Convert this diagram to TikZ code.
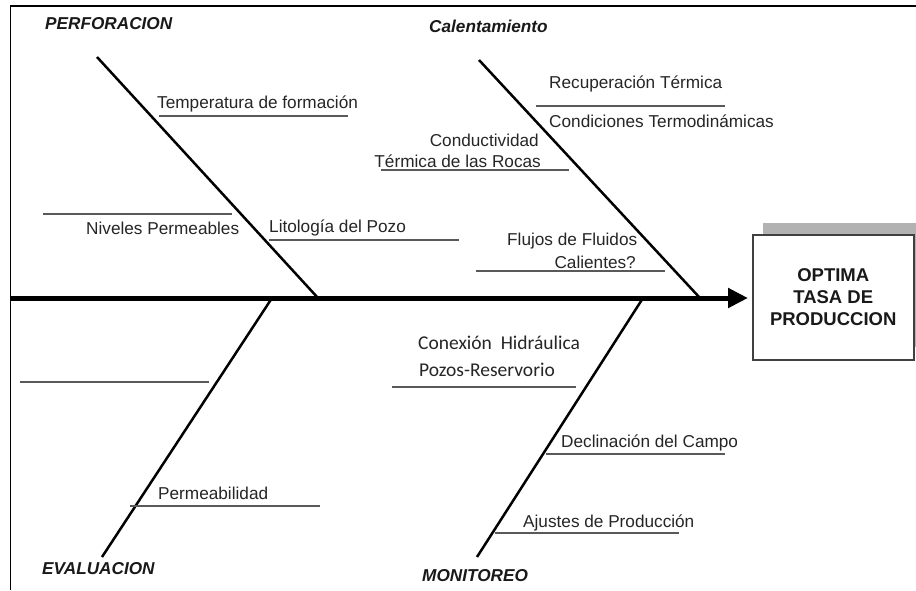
\documentclass[tikz,border=0pt]{standalone}
\usepackage{fontspec}
\setmainfont{Liberation Sans}
\newfontfamily\calib{Carlito}
\usetikzlibrary{arrows.meta}
\begin{document}
\begin{tikzpicture}[x=1pt,y=-1pt,
  lbl/.style={inner sep=0pt,font=\fontsize{17.2}{20}\selectfont,text=black!85},
  head/.style={inner sep=0pt,font=\fontsize{17.2}{20}\selectfont\bfseries\itshape,text=black!90},
  bone/.style={line width=2.5pt,black},
  sub/.style={line width=1.6pt,black!65},
  frame/.style={line width=1.6pt,black}]
\useasboundingbox (0,0) rectangle (916,590);
\fill[white] (0,0) rectangle (916,590);
% frame
\coordinate (fTL) at (10.5,6);
\coordinate (fTR) at (916,6);
\coordinate (fBL) at (10.5,590);
\draw[frame] (fTR) -- (fTL) -- (fBL);
% result box
\fill[black!30] (763,223) rectangle (916,347);
\node[draw=black!75,line width=1.5pt,fill=white,minimum width=161pt,minimum height=125pt,anchor=north west,inner sep=0pt,
  font=\fontsize{18.5}{22}\selectfont\bfseries,align=center,text=black!90] (res) at (752,234) {OPTIMA\\TASA DE\\PRODUCCION};
% spine
\coordinate (spL) at (10.5,298);
\coordinate (spR) at (748,298);
\draw[line width=5pt,-{Triangle[length=20pt,width=19pt]}] (spL) -- (spR);
% bones
\coordinate (pT) at (97,57);  \coordinate (pB) at (318,298);
\coordinate (cT) at (479,60); \coordinate (cB) at (700,298);
\coordinate (eT) at (272,298); \coordinate (eB) at (102,557);
\coordinate (mT) at (643,298); \coordinate (mB) at (477,557);
\draw[bone] (pT) -- (pB);
\draw[bone] (cT) -- (cB);
\draw[bone] (eT) -- (eB);
\draw[bone] (mT) -- (mB);
% headings
\node[head,anchor=west] (hP) at (45,24) {PERFORACION};
\node[head,anchor=west] (hC) at (429,26) {Calentamiento};
\node[head,anchor=west] (hE) at (42,569) {EVALUACION};
\node[head,anchor=west] (hM) at (422,576) {MONITOREO};
% PERFORACION causes
\node[lbl,anchor=west] (t1) at (157,104) {Temperatura de formación};
\coordinate (l1a) at (159,116); \coordinate (l1b) at (348,116);
\draw[sub] (l1a) -- (l1b);
\node[lbl,anchor=west] (t2) at (86,228) {Niveles Permeables};
\coordinate (l2a) at (43,214); \coordinate (l2b) at (232,214);
\draw[sub] (l2a) -- (l2b);
\node[lbl,anchor=west] (t3) at (269,228) {Litología del Pozo};
\coordinate (l3a) at (269,240); \coordinate (l3b) at (459,240);
\draw[sub] (l3a) -- (l3b);
% CALENTAMIENTO causes
\node[lbl,anchor=west] (t4) at (549,84) {Recuperación Térmica};
\coordinate (l4a) at (536,106); \coordinate (l4b) at (725,106);
\draw[sub] (l4a) -- (l4b);
\node[lbl,anchor=west] (t5) at (549,121) {Condiciones Termodinámicas};
\node[lbl,anchor=east] (t6) at (539,140) {Conductividad};
\node[lbl,anchor=east] (t7) at (541,161) {Térmica de las Rocas};
\coordinate (l6a) at (381,170); \coordinate (l6b) at (569,170);
\draw[sub] (l6a) -- (l6b);
\node[lbl,anchor=west] (t8) at (507,241) {Flujos de Fluidos};
\node[lbl,anchor=east] (t9) at (636,262) {Calientes?};
\coordinate (l8a) at (476,271); \coordinate (l8b) at (665,271);
\draw[sub] (l8a) -- (l8b);
% EVALUACION causes
\coordinate (l10a) at (20,382); \coordinate (l10b) at (209,382);
\draw[sub] (l10a) -- (l10b);
\node[lbl,anchor=west] (t11) at (158,493) {Permeabilidad};
\coordinate (l11a) at (130,506); \coordinate (l11b) at (320,506);
\draw[sub] (l11a) -- (l11b);
% MONITOREO causes
\node[lbl,anchor=west,font=\calib\fontsize{19.5}{22}\selectfont] (t12) at (418,343) {Conexión\ \ Hidráulica};
\node[lbl,anchor=west,font=\calib\fontsize{19.5}{22}\selectfont] (t13) at (419,370) {Pozos-Reservorio};
\coordinate (l12a) at (392,387); \coordinate (l12b) at (576,387);
\draw[sub] (l12a) -- (l12b);
\node[lbl,anchor=west] (t14) at (561,443) {Declinación del Campo};
\coordinate (l14a) at (546,454); \coordinate (l14b) at (725,454);
\draw[sub] (l14a) -- (l14b);
\node[lbl,anchor=west] (t15) at (523,523) {Ajustes de Producción};
\coordinate (l15a) at (495,533); \coordinate (l15b) at (679,533);
\draw[sub] (l15a) -- (l15b);
\end{tikzpicture}
\end{document}
